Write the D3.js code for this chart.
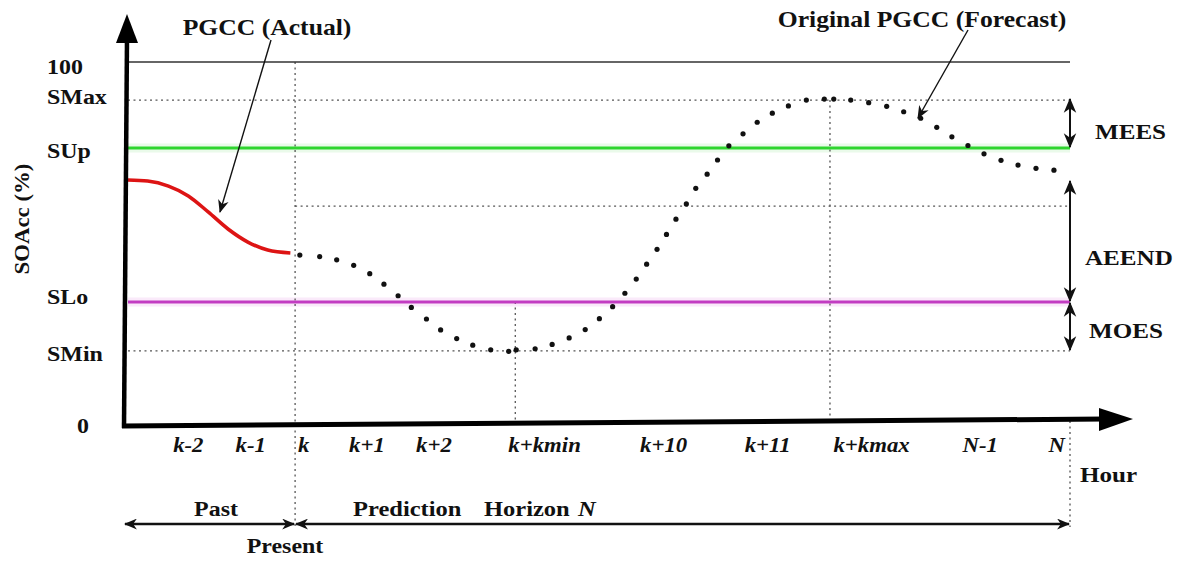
<!DOCTYPE html>
<html><head><meta charset="utf-8">
<script src="https://cdn.jsdelivr.net/npm/d3@7"></script>
<style>
html,body{margin:0;padding:0;background:#fff;}
svg{display:block;background:#fff;}
text{font-family:"Liberation Serif","Times New Roman",serif;font-weight:bold;fill:#111;}
</style></head><body>
<svg id="chart" width="1189" height="563"></svg>
<script>
// ---------------- data ----------------
const yLevelNames  = ["100", "SMax", "SUp", "SLo", "SMin", "0"];
const yLevelValues = [100, 89.5, 76.3, 33.9, 20.4, 0];

const xTickLabels = ["k-2", "k-1", "k", "k+1", "k+2", "k+kmin", "k+10", "k+11", "k+kmax", "N-1", "N"];
const xTickPos    = [6.7, 13.3, 18.9, 25.6, 32.7, 44.4, 57.0, 68.0, 79.0, 90.5, 98.6];

const kPos = 18.0, kminPos = 41.3, kmaxPos = 74.6, nPos = 100;
const refLevel = 60.3;      // dotted reference level over the horizon
const aeendTop = 67.2;      // upper end of AEEND arrow

// PGCC (Actual)
const actualX = [0.3, 2.4, 4.6, 6.7, 8.8, 10.9, 13.0, 15.1, 17.5];
const actualY = [67.5, 67.2, 65.8, 63.1, 58.7, 54.0, 50.4, 48.2, 47.4];

// Original PGCC (Forecast) - dotted
const forecastX = [18.5,20.6,22.4,24.2,25.9,27.4,28.9,30.3,31.9,33.4,35.1,36.8,38.7,40.6,41.4,43.4,45.2,47.0,48.7,50.2,51.6,52.9,54.1,55.2,56.3,57.3,58.3,59.4,60.4,61.6,62.7,63.9,65.4,66.9,68.5,70.2,72.1,74.0,75.0,76.8,78.7,80.6,82.4,84.2,85.9,87.5,89.2,90.9,92.7,94.5,96.4,98.3];
const forecastY = [46.8,46.4,45.5,44.0,41.7,38.8,35.6,32.4,29.2,26.2,23.8,22.0,20.7,20.3,20.7,21.0,22.2,24.0,26.3,29.3,32.6,36.3,40.2,44.3,48.4,52.5,56.7,60.9,65.2,69.1,73.0,76.9,80.2,83.4,85.9,87.9,89.5,89.8,89.8,89.5,88.8,87.8,86.3,84.5,82.0,79.4,77.0,74.7,72.9,71.6,70.7,70.2];

const yAxisTitle = "SOAcc (%)";
const xAxisTitle = "Hour";

// ---------------- drawing ----------------
const svg = d3.select("#chart");
const x = d3.scaleLinear().domain([0, 100]).range([125, 1070]);
const y = d3.scaleLinear().domain([0, 100]).range([425, 62]);
const SX = 1.14; // horizontal stretch of the lettering

const lvl = n => yLevelValues[yLevelNames.indexOf(n)];

const defs = svg.append("defs");
function marker(id, w, h) {
  defs.append("marker").attr("id", id)
    .attr("viewBox", "0 0 12 10").attr("refX", 11).attr("refY", 5)
    .attr("markerWidth", w).attr("markerHeight", h)
    .attr("markerUnits", "userSpaceOnUse")
    .attr("orient", "auto-start-reverse")
    .append("path").attr("d", "M0,0 L12,5 L0,10 L3.5,5 Z").attr("fill", "#111");
}
marker("arr", 13, 11);
marker("big", 15, 14);

function txt(px, py, str, size, anchor, italic) {
  const t = svg.append("text")
    .attr("transform", `translate(${px},${py}) scale(${SX},1)`)
    .attr("text-anchor", anchor || "start")
    .style("font-size", size + "px");
  if (italic) t.style("font-style", "italic");
  t.text(str);
  return t;
}

const x0 = 128, x1 = x(nPos);

// soft halos under coloured lines
svg.append("line").attr("x1", x0).attr("x2", x1).attr("y1", y(lvl("SUp"))).attr("y2", y(lvl("SUp")))
  .attr("stroke", "#7be07b").attr("stroke-width", 9).attr("opacity", 0.15);
svg.append("line").attr("x1", x0).attr("x2", x1).attr("y1", y(lvl("SLo"))).attr("y2", y(lvl("SLo")))
  .attr("stroke", "#e07be0").attr("stroke-width", 9).attr("opacity", 0.15);

// dotted guide lines
const dotted = (xa, ya, xb, yb) => svg.append("line")
  .attr("x1", xa).attr("y1", ya).attr("x2", xb).attr("y2", yb)
  .attr("stroke", "#555").attr("stroke-width", 1.3).attr("stroke-dasharray", "2,3.5");

dotted(x0, y(lvl("SMax")), x1, y(lvl("SMax")));
dotted(x(kPos), y(refLevel), x1, y(refLevel));
dotted(x0, y(lvl("SMin")), x1, y(lvl("SMin")));
dotted(x(kPos), y(100), x(kPos), 527);
dotted(x(kminPos), y(lvl("SLo")), x(kminPos), 422);
dotted(x(kmaxPos), y(lvl("SMax")), x(kmaxPos), 421);
dotted(x(nPos), 421, x(nPos), 527);

// solid level lines
svg.append("line").attr("x1", x0).attr("x2", x1).attr("y1", y(100)).attr("y2", y(100))
  .attr("stroke", "#333").attr("stroke-width", 1.6);
svg.append("line").attr("x1", x0).attr("x2", x1).attr("y1", y(lvl("SUp"))).attr("y2", y(lvl("SUp")))
  .attr("stroke", "#2fd52f").attr("stroke-width", 3);
svg.append("line").attr("x1", x0).attr("x2", x1).attr("y1", y(lvl("SLo"))).attr("y2", y(lvl("SLo")))
  .attr("stroke", "#c23cc2").attr("stroke-width", 3);

// actual curve
const actual = actualX.map((v, i) => [v, actualY[i]]);
svg.append("path").datum(actual)
  .attr("d", d3.line().x(d => x(d[0])).y(d => y(d[1])).curve(d3.curveMonotoneX))
  .attr("fill", "none").attr("stroke", "#dd1414").attr("stroke-width", 3.6);

// forecast dots
const forecast = forecastX.map((v, i) => [v, forecastY[i]]);
svg.append("g").selectAll("circle").data(forecast).join("circle")
  .attr("cx", d => x(d[0])).attr("cy", d => y(d[1])).attr("r", 2.6).attr("fill", "#111");

// axes (thick arrows)
svg.append("line").attr("x1", 124).attr("y1", 428).attr("x2", 127).attr("y2", 38)
  .attr("stroke", "#000").attr("stroke-width", 4.5);
svg.append("path").attr("d", "M127,14 L138,43 L116,43 Z").attr("fill", "#000");
svg.append("line").attr("x1", 122).attr("y1", 426).attr("x2", 1105).attr("y2", 419)
  .attr("stroke", "#000").attr("stroke-width", 5);
svg.append("path").attr("d", "M1133,419 L1099,408 L1099,431 Z").attr("fill", "#000");

// y level labels (small vertical nudges as in the original lettering)
const nudge = {"100": 5, "SMax": -3, "SUp": 3, "SLo": -5, "SMin": 3, "0": 0};
yLevelNames.forEach((n, i) => {
  if (n === "0") txt(83, y(0) + 8, n, 21, "middle");
  else txt(47, y(yLevelValues[i]) + 7 + nudge[n], n, 21, "start");
});

// x tick labels
xTickLabels.forEach((l, i) => txt(x(xTickPos[i]), 452, l, 20, "middle", true));

// axis titles
svg.append("text")
  .attr("transform", "translate(29,219) rotate(-90) scale(1.14,1)")
  .attr("text-anchor", "middle").style("font-size", "20px").text(yAxisTitle);
txt(1080, 482, xAxisTitle, 22, "start");

// annotations
txt(267, 35, "PGCC (Actual)", 22.5, "middle");
txt(922, 27, "Original PGCC (Forecast)", 22.5, "middle");
const lead = (xa, ya, xb, yb) => svg.append("line")
  .attr("x1", xa).attr("y1", ya).attr("x2", xb).attr("y2", yb)
  .attr("stroke", "#111").attr("stroke-width", 1.4).attr("marker-end", "url(#arr)");
lead(271, 40, 220, 212);
lead(968, 30, 918, 118);

// right-side range arrows
const vArrow = (ya, yb) => svg.append("line")
  .attr("x1", x1).attr("x2", x1).attr("y1", ya).attr("y2", yb)
  .attr("stroke", "#111").attr("stroke-width", 2)
  .attr("marker-start", "url(#big)").attr("marker-end", "url(#big)");
vArrow(y(lvl("SMax")) - 1, y(lvl("SUp")) - 1);
vArrow(y(aeendTop), y(lvl("SLo")) - 1);
vArrow(y(lvl("SLo")) + 1, y(lvl("SMin")) - 1);
txt(1095, 139, "MEES", 22, "start");
txt(1085, 265, "AEEND", 22, "start");
txt(1089, 338, "MOES", 22, "start");

// bottom: past / prediction horizon
const hArrow = (xa, xb) => svg.append("line")
  .attr("x1", xa).attr("x2", xb).attr("y1", 524).attr("y2", 524)
  .attr("stroke", "#111").attr("stroke-width", 2.4)
  .attr("marker-start", "url(#arr)").attr("marker-end", "url(#arr)");
hArrow(125, x(kPos) - 1);
hArrow(x(kPos) + 1, x(nPos) - 1);
txt(216, 516, "Past", 21, "middle");
txt(285, 553, "Present", 21, "middle");
txt(353, 516, "Prediction", 21.5, "start");
txt(484, 516, "Horizon", 21.5, "start");
txt(578, 516, "N", 21.5, "start", true);
</script>
</body></html>
